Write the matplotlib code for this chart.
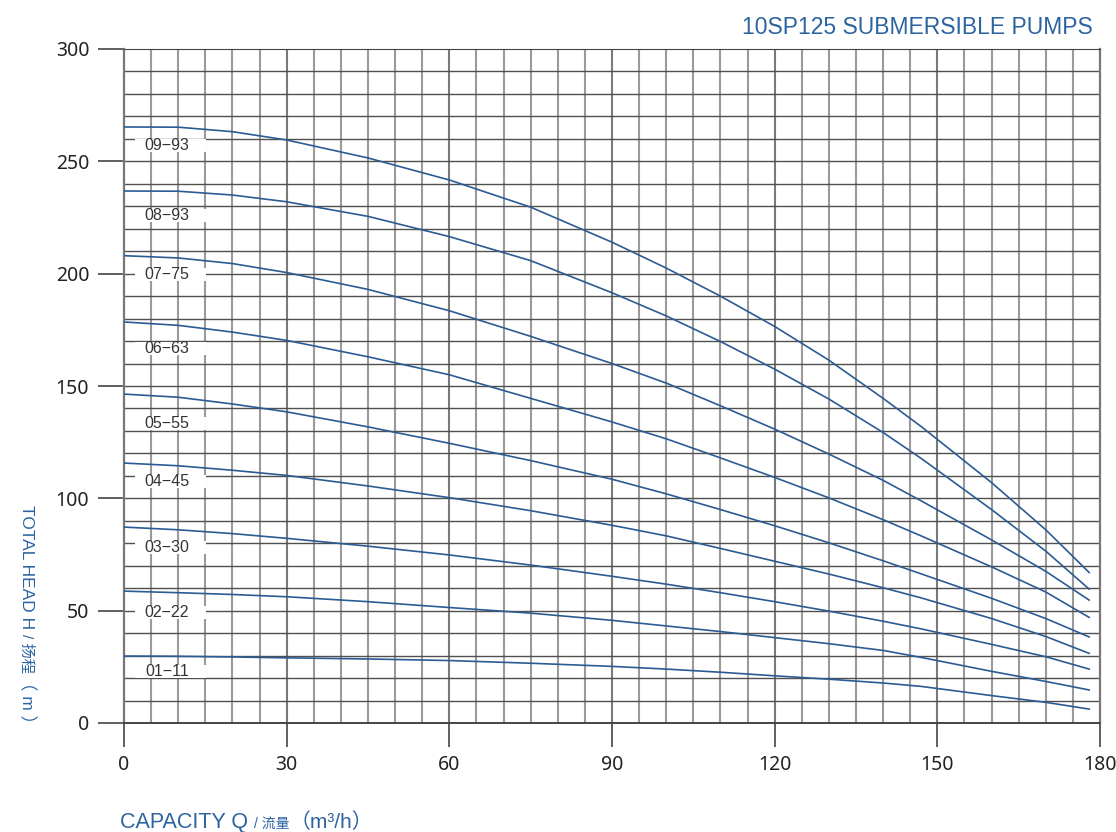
import matplotlib
matplotlib.use('Agg')
import matplotlib.pyplot as plt
from matplotlib.patches import Rectangle

# 流量 Q (m3/h)
q = [0, 10, 20, 30, 45, 60, 75, 90, 100, 110, 120, 130, 140, 147, 160, 170, 178]

# 各型号扬程 H (m)
h_09_93 = [265.3, 265.2, 263.2, 259.5, 251.5, 241.7, 229.6, 214.0, 202.5, 190.0, 176.5, 161.5, 144.5, 132.0, 107.0, 86.0, 67.0]
h_08_93 = [236.8, 236.7, 235.0, 232.0, 225.5, 216.5, 205.8, 191.5, 181.2, 169.8, 157.5, 144.2, 129.3, 117.8, 95.0, 76.5, 59.6]
h_07_75 = [208.0, 207.0, 204.5, 200.5, 193.0, 183.5, 172.1, 160.0, 151.3, 141.2, 130.8, 119.7, 108.0, 98.9, 81.5, 67.5, 54.7]
h_06_63 = [178.5, 177.0, 174.0, 170.3, 163.0, 155.0, 144.5, 134.0, 126.5, 118.0, 109.3, 100.2, 90.5, 83.3, 69.5, 58.3, 47.0]
h_05_55 = [146.4, 145.0, 142.0, 138.5, 131.8, 124.5, 116.8, 108.5, 102.0, 95.0, 87.8, 80.2, 72.2, 66.4, 55.5, 46.5, 38.3]
h_04_45 = [115.7, 114.5, 112.5, 110.2, 105.5, 100.3, 94.5, 88.0, 83.3, 77.7, 72.0, 66.3, 60.2, 55.7, 46.5, 38.5, 31.0]
h_03_30 = [87.2, 86.0, 84.3, 82.2, 78.7, 74.8, 70.3, 65.3, 61.8, 58.0, 54.0, 49.8, 45.3, 41.9, 35.0, 29.5, 24.0]
h_02_22 = [58.7, 58.0, 57.2, 56.2, 54.0, 51.4, 48.9, 45.7, 43.2, 40.7, 38.0, 35.3, 32.3, 29.2, 23.0, 18.5, 14.7]
h_01_11 = [29.8, 29.7, 29.4, 29.0, 28.5, 27.8, 26.6, 25.2, 24.0, 22.6, 21.0, 19.5, 17.8, 16.3, 12.2, 9.2, 6.2]

models = ['09−93', '08−93', '07−75', '06−63', '05−55', '04−45', '03−30', '02−22', '01−11']
curves = [h_09_93, h_08_93, h_07_75, h_06_63, h_05_55, h_04_45, h_03_30, h_02_22, h_01_11]
label_y = [257, 226, 199.5, 166.5, 133.5, 107.3, 78.3, 49, 23.1]

blue = '#2b5b93'
text_blue = '#2c64a0'
sans = ['Liberation Sans', 'Noto Sans CJK SC', 'DejaVu Sans']

fig = plt.figure(figsize=(11.16, 8.32), dpi=100)
ax = fig.add_axes([124 / 1116, 1 - 723 / 832, 976 / 1116, 674 / 832])

# 网格
for xv in range(5, 180, 5):
    c = '#7a7a7a' if xv % 30 == 0 else '#9a9a9a'
    ax.axvline(xv, color=c, lw=1.5, zorder=1)
for yv in range(10, 300, 10):
    ax.axhline(yv, color='#505050', lw=1.0, zorder=1)

# 曲线
for h in curves:
    ax.plot(q, h, color=blue, lw=1.2, zorder=3)

# 型号标签
for name, ly in zip(models, label_y):
    ax.add_patch(Rectangle((2, ly - 2.9), 13.2, 5.8, facecolor='white', edgecolor='none', zorder=2))
    ax.text(7.9, ly, name, ha='center', va='center', fontsize=11.5,
            family=sans, color='#333333', zorder=4)

ax.set_xlim(0, 180)
ax.set_ylim(0, 300)
ax.set_xticks(range(0, 181, 30))
ax.set_yticks(range(0, 301, 50))
ax.tick_params(axis='y', length=19, width=1.2, color='#444444', pad=6, labelsize=14)
ax.tick_params(axis='x', length=17, width=1.2, color='#444444', pad=6, labelsize=14)
for lab in ax.get_xticklabels() + ax.get_yticklabels():
    lab.set_family(['Noto Sans', 'DejaVu Sans'])
    lab.set_color('#222222')

ax.spines['left'].set_color('#777777')
ax.spines['left'].set_linewidth(1.6)
ax.spines['right'].set_color('#777777')
ax.spines['right'].set_linewidth(1.6)
ax.spines['top'].set_color('#444444')
ax.spines['bottom'].set_color('#444444')
ax.spines['bottom'].set_linewidth(1.4)

# 标题
fig.text(1093 / 1116, 1 - 34 / 832, '10SP125 SUBMERSIBLE PUMPS', ha='right', va='baseline',
         fontsize=16.5, color=text_blue, family=sans)

W, H = 1116.0, 832.0
fig.canvas.draw()
renderer = fig.canvas.get_renderer()

# y 轴标题（竖排，从上往下）
y_parts = [('TOTAL HEAD H ', 12.5), ('/ 扬程', 11), ('（ m ）', 12.5)]
ypos = 505.0
for s, fs in y_parts:
    t = fig.text(22 / W, 1 - ypos / H, s, rotation=270, rotation_mode='anchor',
                 ha='left', va='baseline', fontsize=fs, color=text_blue, family=sans)
    ypos += t.get_window_extent(renderer).height

# x 轴标题
x_parts = [('CAPACITY Q ', 15.5), ('/ 流量', 10), ('（m³/h）', 15)]
xpos = 120.0
for s, fs in x_parts:
    t = fig.text(xpos / W, 1 - 828 / H, s, ha='left', va='baseline',
                 fontsize=fs, color=text_blue, family=sans)
    xpos += t.get_window_extent(renderer).width

fig.savefig('out.png', dpi=100)
